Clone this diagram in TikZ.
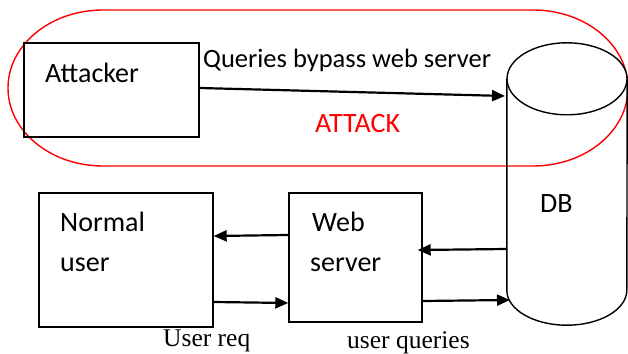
\documentclass[tikz,border=0pt]{standalone}
\usepackage{fontspec}
\setmainfont{Carlito}
\newfontfamily\capfont{Liberation Serif}
\usetikzlibrary{arrows.meta}
\begin{document}
\begin{tikzpicture}[x=1pt,y=1pt,
  box/.style={draw=black,line width=1.4pt,inner sep=0pt},
  txt/.style={inner sep=0pt,anchor=base west,font=\fontsize{28}{32}\selectfont},
  labeltxt/.style={inner sep=0pt,anchor=base west,font=\capfont\fontsize{25.5}{28}\selectfont},
  flow/.style={line width=2.2pt,-{Triangle[length=13pt,width=11pt]}},
  zone/.style={draw=red,line width=1.4pt}]
\useasboundingbox (0,0) rectangle (628,353);

% attack zone around the attacker and the top of the database
\draw[zone] (103,343) -- (533,343)
  arc[start angle=90,end angle=-90,x radius=95,y radius=78]
  -- (103,187)
  arc[start angle=270,end angle=90,x radius=95,y radius=78] -- cycle;

% boxes
\node[box,minimum width=175pt,minimum height=94pt] (attacker) at (111.5,263) {};
\node[box,minimum width=174pt,minimum height=134pt] (user) at (126,93) {};
\node[box,minimum width=133pt,minimum height=129pt] (web) at (355.5,95.5) {};

% database cylinder
\node[inner sep=0pt,minimum width=120pt,minimum height=211pt] (db) at (567,168.5) {};
\draw[line width=1.4pt] (db.north west) -- (db.south west)
  arc[start angle=180,end angle=360,x radius=60,y radius=35] -- (db.north east);
\draw[line width=1.4pt,fill=white] (db.north) ellipse[x radius=60,y radius=36];

% texts
\node[txt] (tatt) at (45,270) {Attacker};
\node[txt,font=\fontsize{26.5}{30}\selectfont] (tq) at (203,285) {Queries bypass web server};
\node[txt,text=red] (tattack) at (315,220) {ATTACK};
\node[txt] (tdb) at (540,140) {DB};
\node[txt] (tn1) at (60,121) {Normal};
\node[txt] (tn2) at (60,81) {user};
\node[txt] (tw1) at (312,121) {Web};
\node[txt] (tw2) at (310,81) {server};
\node[labeltxt] (treq) at (163,7) {User req};
\node[labeltxt] (tuq) at (347,5) {user queries};

% connector end points
\coordinate (qin) at (505,257);
\coordinate (dbout) at (507,104);
\coordinate (dbin) at (510,53);

% connectors
\draw[flow] ([yshift=2pt]attacker.east) -- (qin);
\draw[flow] ([yshift=22.5pt]web.west) -- ([yshift=24pt]user.east);
\draw[flow] ([yshift=-42pt]user.east) -- ([yshift=-45.5pt]web.west);
\draw[flow] (dbout) -- ([xshift=-5pt,yshift=7.5pt]web.east);
\draw[flow] ([yshift=-43.5pt]web.east) -- (dbin);
\end{tikzpicture}
\end{document}
